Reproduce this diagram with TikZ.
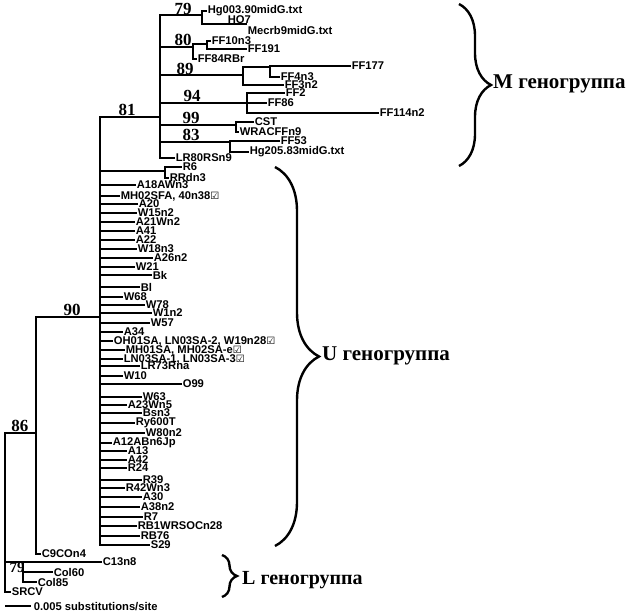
\documentclass[tikz,border=0pt]{standalone}
\usepackage{fontspec}
\setmainfont{Liberation Serif}
\newfontfamily\labfont{Liberation Sans}
\newfontfamily\symfont{DejaVu Sans}
\usetikzlibrary{decorations.pathreplacing}
\newcommand{\ckbox}{{\symfont\bfseries\fontsize{10}{10}\selectfont ☑}}
\begin{document}
\begin{tikzpicture}[x=1pt,y=-1pt,
  br/.style={line width=1.4pt},
  leaf/.style={anchor=west, inner sep=0.6pt, font=\labfont\bfseries\fontsize{11.2}{11}\selectfont},
  boot/.style={anchor=south, inner sep=0.5pt, font=\bfseries\fontsize{17}{17}\selectfont},
  grp/.style={anchor=west, inner sep=0pt, font=\bfseries\fontsize{21}{21}\selectfont},
  brc/.style={decorate, decoration={brace, amplitude=#1}, line width=2.4pt}]
\useasboundingbox (0,0) rectangle (627,613);
\fill[white] (0,0) rectangle (627,613);

% internal nodes
\coordinate (root) at (5,510);
\coordinate (n86) at (36,433);
\coordinate (n90) at (100,317);
\coordinate (n81) at (160,117);
\coordinate (m79) at (202,15);
\coordinate (m80) at (193,47);
\coordinate (m80a) at (207,44);
\coordinate (m89) at (243,75);
\coordinate (m89a) at (270,67);
\coordinate (m94) at (247,103);
\coordinate (m99) at (236,125);
\coordinate (m83) at (230,142);
\coordinate (u1) at (165,171);
\coordinate (nL) at (23,562);

\draw[br] (root) |- (n86);
\draw[br] (n86) |- (n90);
\draw[br] (n90) |- (n81);
\foreach \c in {m79,m80,m89,m94,m99,m83} \draw[br] (n81) |- (\c);
\draw[br] (m80) |- (m80a);
\draw[br] (m89) |- (m89a);
\draw[br] (n90) |- (u1);
\draw[br] (root) |- (nL);

% M group leaves
\node[leaf] (hg003) at (207,11) {Hg003.90midG.txt};
\draw[br] (m79) |- (hg003.west);
\coordinate (mecc) at (247,24);
\draw[br] (m79) |- (mecc);
\node[leaf, anchor=north west] (mecrb) at (247,26) {Mecrb9midG.txt};
\node[leaf, anchor=south west] (ho7) at (227,24) {HO7};
\node[leaf] (ff10) at (211,41) {FF10n3};
\draw[br] (m80a) |- (ff10.west);
\node[leaf] (ff191) at (247,49) {FF191};
\draw[br] (m80a) |- (ff191.west);
\node[leaf] (ff84) at (197,59) {FF84RBr};
\draw[br] (m80) |- (ff84.west);
\node[leaf] (ff177) at (351,66) {FF177};
\draw[br] (m89a) |- (ff177.west);
\node[leaf] (ff4) at (280,77) {FF4n3};
\draw[br] (m89a) |- (ff4.west);
\node[leaf] (ff3) at (284,85) {FF3n2};
\draw[br] (m89) |- (ff3.west);
\node[leaf] (ff2) at (285,93) {FF2};
\draw[br] (m94) |- (ff2.west);
\node[leaf] (ff86) at (267,103) {FF86};
\draw[br] (m94) |- (ff86.west);
\node[leaf] (ff114) at (379,113) {FF114n2};
\draw[br] (m94) |- (ff114.west);
\node[leaf] (cst) at (254,122) {CST};
\draw[br] (m99) |- (cst.west);
\node[leaf] (wrac) at (239,132) {WRACFFn9};
\draw[br] (m99) |- (wrac.west);
\node[leaf] (ff53) at (280,141) {FF53};
\draw[br] (m83) |- (ff53.west);
\node[leaf] (hg205) at (249,152) {Hg205.83midG.txt};
\draw[br] (m83) |- (hg205.west);
\node[leaf] (lr80) at (175,158) {LR80RSn9};
\draw[br] (n81) |- (lr80.west);

% U group
\node[leaf] (r6) at (182,167) {R6};
\draw[br] (u1) |- (r6.west);
\node[leaf] (rrdn3) at (169,178) {RRdn3};
\draw[br] (u1) |- (rrdn3.west);
\foreach \x/\y/\n/\t in {
 136/185/u2/A18AWn3,
 120/196/u3/{MH02SFA, 40n38\ckbox},
 138/204/u4/A20,
 137/213/u5/W15n2,
 135/222/u6/A21Wn2,
 135/231/u7/A41,
 135/240/u8/A22,
 137/249/u9/W18n3,
 153/258/u10/A26n2,
 135/267/u11/W21,
 152/275/u12/Bk,
 140/287/u13/Bl,
 123/297/u14/W68,
 145/305/u15/W78,
 152/313/u16/W1n2,
 150/323/u17/W57,
 123/332/u18/A34,
 113/341/u19/{OH01SA, LN03SA-2, W19n28\ckbox},
 125/350/u20/{MH01SA, MH02SA-e\ckbox},
 123/359/u21/{LN03SA-1, LN03SA-3\ckbox},
 140/366/u22/LR73Rna,
 123/376/u23/W10,
 182/384/u24/O99,
 142/397/u25/W63,
 127/405/u26/A23Wn5,
 142/413/u27/Bsn3,
 135/423/u28/Ry600T,
 145/433/u29/W80n2,
 112/443/u30/A12ABn6Jp,
 127/451/u31/A13,
 127/460/u32/A42,
 127/468/u33/R24,
 142/480/u34/R39,
 125/488/u35/R42Wn3,
 142/497/u36/A30,
 140/507/u37/A38n2,
 143/517/u38/R7,
 137/526/u39/RB1WRSOCn28,
 140/536/u40/RB76,
 150/545/u41/S29}
{
  \node[leaf] (\n) at (\x,\y) {\t};
  \draw[br] (n90) |- (\n.west);
}

% bottom part
\node[leaf] (c9) at (41,554) {C9COn4};
\draw[br] (n86) |- (c9.west);
\node[leaf] (c13) at (102,562) {C13n8};
\draw[br] (nL) |- (c13.west);
\node[leaf] (col60) at (53,572) {Col60};
\draw[br] (nL) |- (col60.west);
\node[leaf] (col85) at (37,582) {Col85};
\draw[br] (nL) |- (col85.west);
\node[leaf] (srcv) at (11,592) {SRCV};
\draw[br] (root) |- (srcv.west);

% scale bar
\coordinate (sb) at (5,606);
\node[leaf] (sbt) at (33,607) {0.005 substitutions/site};
\draw[br] (sb) -- ([xshift=-2pt]sbt.west |- sb);

% support values
\node[boot] at (127,116) {81};
\node[boot] at (183,15) {79};
\node[boot] at (183,46) {80};
\node[boot] at (185,75) {89};
\node[boot] at (192,102) {94};
\node[boot] at (191,124) {99};
\node[boot] at (191,141) {83};
\node[boot] at (72,316) {90};
\node[boot] at (20,432) {86};
\node[boot, anchor=north, font=\bfseries\fontsize{15}{15}\selectfont] at (17,562) {79};

% braces and group names
\draw[brc=32] (459,4) -- (459,166);
\draw[brc=44] (275,167) -- (275,546);
\draw[brc=15] (222,555) -- (222,597);
\node[grp] at (493,84) {M геногруппа};
\node[grp] at (322,356) {U геногруппа};
\node[grp, font=\bfseries\fontsize{20}{20}\selectfont] at (242,580) {L геногруппа};
\end{tikzpicture}
\end{document}
